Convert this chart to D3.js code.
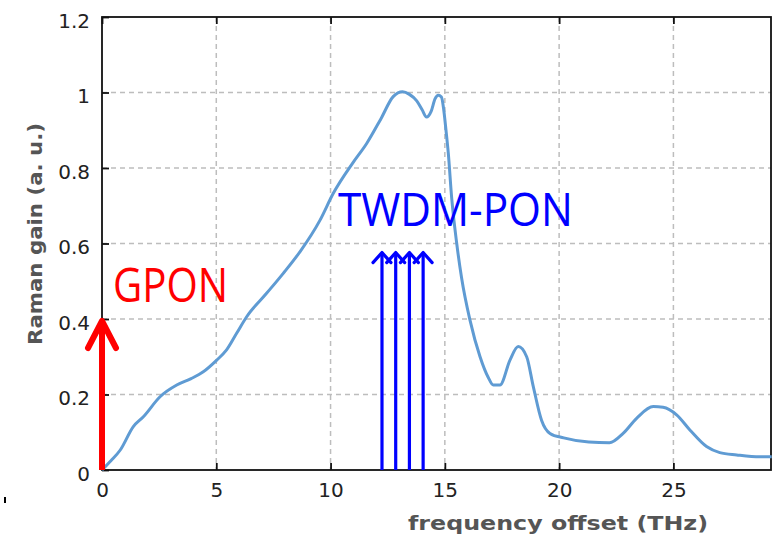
<!DOCTYPE html>
<html>
<head>
<meta charset="utf-8">
<script src="https://cdn.jsdelivr.net/npm/d3@7/dist/d3.min.js"></script>
<style>
  html, body { margin: 0; padding: 0; background: #fff; }
  svg { display: block; }
</style>
</head>
<body>
<svg id="chart" width="775" height="534"></svg>
<script>
// ---- data ----
const freqTHz = [0,0.4,0.8,1.37,1.81,2.54,3.27,3.9,4.43,5.02,5.45,5.89,6.33,7.2,7.93,8.66,9.54,10.12,10.99,11.58,12.2,12.74,13.15,13.45,13.77,14.0,14.2,14.4,14.57,14.71,14.85,14.95,15.05,15.15,15.3,15.52,15.73,16.1,16.54,16.9,17.12,17.41,17.85,18.21,18.58,18.87,19.23,19.6,20.2,21.3,22.2,22.8,23.39,24.12,24.55,25.14,25.72,26.45,27.03,27.77,28.78,29.3];
const ramanGain = [0,0.025,0.053,0.115,0.141,0.194,0.225,0.242,0.26,0.291,0.318,0.362,0.406,0.468,0.521,0.578,0.662,0.733,0.815,0.865,0.93,0.989,1.002,0.995,0.978,0.955,0.935,0.95,0.983,0.993,0.988,0.955,0.9,0.84,0.72,0.6,0.51,0.397,0.3,0.245,0.225,0.225,0.291,0.327,0.3,0.221,0.132,0.097,0.085,0.074,0.072,0.097,0.137,0.168,0.166,0.146,0.106,0.062,0.046,0.04,0.035,0.035];
const xTicks = [0,5,10,15,20,25];
const yTicks = [0,0.2,0.4,0.6,0.8,1,1.2];
const gponArrow = {x: 0, y: 0.4};
const twdmArrowX = [12.25, 12.85, 13.45, 14.05];
const twdmArrowY = 0.576;
const gponLabel = {text: "GPON", x: 0.48, y: 0.445};
const twdmLabel = {text: "TWDM-PON", x: 10.32, y: 0.646};
const xTitle = "frequency offset (THz)";
const yTitle = "Raman gain (a. u.)";

// ---- layout ----
const svg = d3.select("#chart");
const L = 102, R = 771, T = 17, B = 470;
const x = d3.scaleLinear().domain([0, 29.27]).range([L, R]);
const y = d3.scaleLinear().domain([0, 1.2]).range([B, T]);

// grid
const grid = svg.append("g").attr("stroke", "#bdbdbd").attr("stroke-width", 1.5)
  .attr("stroke-dasharray", "5,4").attr("fill", "none");
grid.selectAll("line.v").data(xTicks.filter(d => d > 0)).join("line")
  .attr("x1", d => x(d)).attr("x2", d => x(d)).attr("y1", T).attr("y2", B);
grid.selectAll("line.h").data(yTicks.filter(d => d > 0 && d < 1.2)).join("line")
  .attr("class", "h")
  .attr("x1", L).attr("x2", R).attr("y1", d => y(d)).attr("y2", d => y(d));

// axes
const fontFam = "'DejaVu Sans', Verdana, sans-serif";
const ax = svg.append("g").attr("transform", `translate(0,${B})`)
  .call(d3.axisBottom(x).tickValues(xTicks).tickSize(-7).tickPadding(13).tickFormat(d3.format("d")));
const ay = svg.append("g").attr("transform", `translate(${L},0)`)
  .call(d3.axisLeft(y).tickValues(yTicks).tickSize(-7).tickPadding(12).tickFormat(d => d3.format("")(+d.toFixed(1))));
const at = svg.append("g").attr("transform", `translate(0,${T})`)
  .call(d3.axisTop(x).tickValues(xTicks).tickSize(-7).tickFormat(""));
[ax, ay, at].forEach(g => {
  g.select(".domain").remove();
  g.selectAll(".tick line").attr("stroke", "#111").attr("stroke-width", 1.8);
  g.selectAll(".tick text").attr("font-family", fontFam).attr("font-size", 20).attr("fill", "#222");
});
ay.selectAll(".tick text").attr("dy", "0.5em");

// frame
svg.append("rect").attr("x", L).attr("y", T).attr("width", R - L).attr("height", B - T)
  .attr("fill", "none").attr("stroke", "#111").attr("stroke-width", 1.8);

// curve
const pts = freqTHz.map((f, i) => [f, ramanGain[i]]);
svg.append("path").datum(pts)
  .attr("fill", "none").attr("stroke", "#5f9bd3").attr("stroke-width", 3)
  .attr("stroke-linejoin", "round")
  .attr("d", d3.line().x(d => x(d[0])).y(d => y(d[1])).curve(d3.curveMonotoneX));

// TWDM arrows
const ta = svg.append("g").attr("stroke", "#0000ff").attr("stroke-width", 3.2).attr("fill", "none")
  .attr("stroke-linecap", "round").attr("stroke-linejoin", "round");
twdmArrowX.forEach(fx => {
  const px = x(fx), py = y(twdmArrowY);
  ta.append("line").attr("x1", px).attr("x2", px).attr("y1", y(0)).attr("y2", py).attr("stroke-linecap", "butt");
  ta.append("path").attr("d", `M${px - 9},${py + 10} L${px},${py} L${px + 9},${py + 10}`);
});

// GPON arrow
const ga = svg.append("g").attr("stroke", "#ff0000").attr("stroke-width", 6).attr("fill", "none")
  .attr("stroke-linejoin", "round").attr("stroke-linecap", "round");
{
  const px = x(gponArrow.x), py = y(gponArrow.y) + 2;
  ga.append("line").attr("x1", px).attr("x2", px).attr("y1", y(0)).attr("y2", py + 2).attr("stroke-linecap", "butt");
  ga.append("path").attr("d", `M${px - 14},${py + 27} L${px},${py} L${px + 14},${py + 27}`);
}

// annotation labels
const annFont = "'Open Sans', 'Noto Sans', sans-serif";
svg.append("text").text(gponLabel.text)
  .attr("x", x(gponLabel.x)).attr("y", y(gponLabel.y))
  .attr("font-family", annFont).attr("font-size", 48).attr("fill", "#ff0000")
  .attr("textLength", 115).attr("lengthAdjust", "spacingAndGlyphs");
svg.append("text").text(twdmLabel.text)
  .attr("x", x(twdmLabel.x)).attr("y", y(twdmLabel.y))
  .attr("font-family", annFont).attr("font-size", 45).attr("fill", "#0000ff")
  .attr("textLength", 235).attr("lengthAdjust", "spacingAndGlyphs");

// axis titles
svg.append("text").text(xTitle)
  .attr("x", 558).attr("y", 530).attr("text-anchor", "middle")
  .attr("font-family", fontFam).attr("font-weight", "bold").attr("font-size", 20).attr("fill", "#555")
  .attr("textLength", 300).attr("lengthAdjust", "spacingAndGlyphs");
svg.append("text").text(yTitle)
  .attr("transform", "translate(41.5,234) rotate(-90)").attr("text-anchor", "middle")
  .attr("font-family", fontFam).attr("font-weight", "bold").attr("font-size", 20).attr("fill", "#555")
  .attr("textLength", 222).attr("lengthAdjust", "spacingAndGlyphs");

// small stray mark at lower left
svg.append("rect").attr("x", 4).attr("y", 497).attr("width", 2).attr("height", 6).attr("fill", "#000");
</script>
</body>
</html>
